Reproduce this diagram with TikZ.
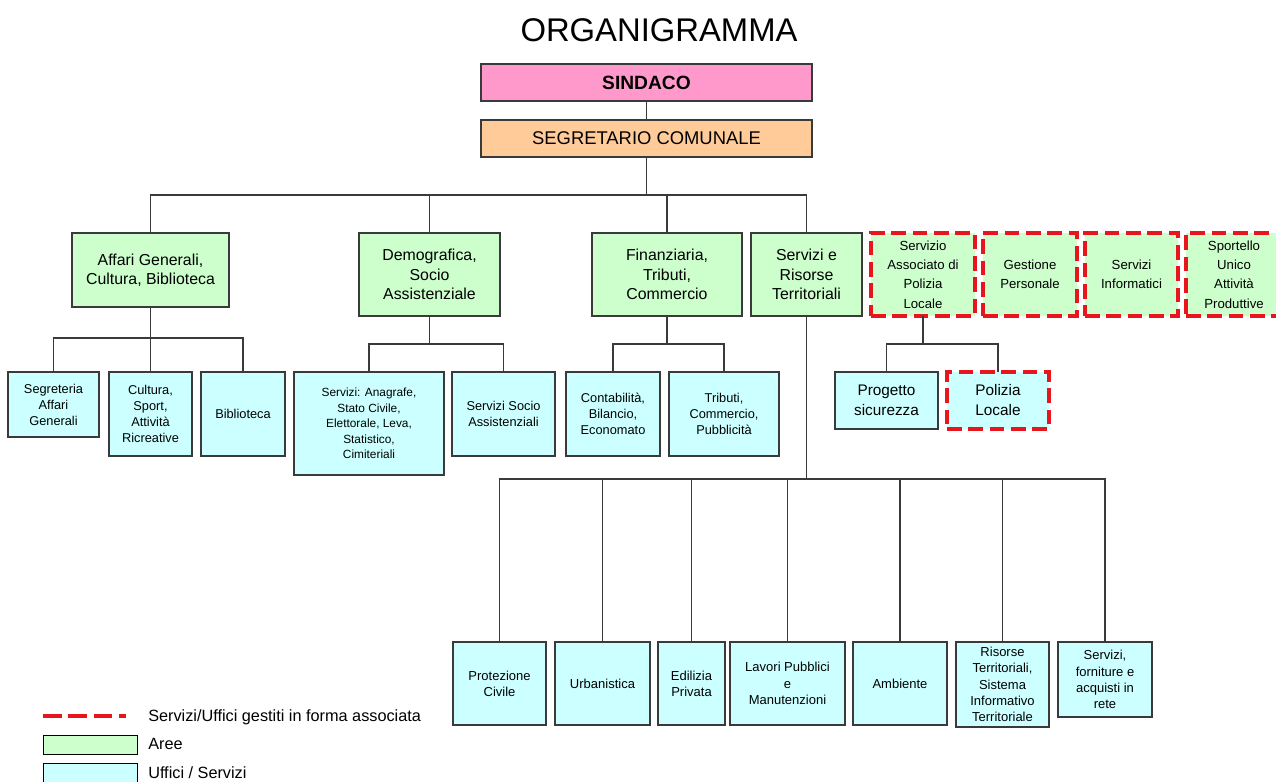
\documentclass[tikz,border=0pt]{standalone}
\usepackage{fontspec}
\setmainfont{Liberation Sans}
\definecolor{areagreen}{HTML}{CCFFCC}
\definecolor{ufcyan}{HTML}{CCFFFF}
\definecolor{sinpink}{HTML}{FF99CC}
\definecolor{segpeach}{HTML}{FFCC99}
\definecolor{bord}{HTML}{3A3A3A}
\definecolor{assred}{HTML}{E8161C}
\tikzset{
  box/.style={draw=bord, line width=0.9pt, inner sep=1pt, outer sep=0pt, align=center, text=black},
  area/.style={box, fill=areagreen, font=\fontsize{11.9}{14.4}\selectfont},
  areaass/.style={box, fill=areagreen, draw=assred, line width=2.4pt, dash pattern=on 11pt off 5pt, font=\fontsize{9.9}{14.4}\selectfont},
  uff/.style={box, fill=ufcyan, font=\fontsize{9.6}{12}\selectfont},
  uffsmall/.style={box, fill=ufcyan, font=\fontsize{8.9}{11.6}\selectfont},
  uffbig/.style={box, fill=ufcyan, font=\fontsize{11.5}{15}\selectfont},
  uffass/.style={uffbig, draw=assred, line width=2.4pt, dash pattern=on 11pt off 5pt},
  uffbot/.style={box, fill=ufcyan, font=\fontsize{9.75}{12.2}\selectfont},
  topbox/.style={box, font=\fontsize{13.8}{16}\selectfont},
  conn/.style={draw=bord, line width=0.9pt},
  legtext/.style={anchor=base west, inner sep=0pt, font=\fontsize{12.2}{14}\selectfont},
  legbox/.style={draw=black, line width=0.75pt, inner sep=0pt, outer sep=0pt},
  assline/.style={draw=assred, line width=2.4pt, dash pattern=on 14pt off 5pt},
}
\newcommand{\bx}[7]{\node[#6, minimum width={(#4-#2)*0.75pt}, minimum height={(#5-#3)*0.75pt}] (#1) at ({(#2+#4)/2},{(#3+#5)/2}) {#7};}
\begin{document}
\begin{tikzpicture}[x=0.75pt, y=-0.75pt]
\useasboundingbox (0,0) rectangle (1276,781);

\node[inner sep=0pt, font=\fontsize{24.6}{28}\selectfont] (title) at (659,30) {ORGANIGRAMMA};

\bx{sind}{481}{64}{812}{101}{topbox, fill=sinpink}{\fontsize{14.4}{16}\selectfont\bfseries SINDACO}
\bx{segr}{481}{120}{812}{157}{topbox, fill=segpeach}{SEGRETARIO COMUNALE}

% level 2
\bx{aff}{72}{233}{229}{307}{area}{Affari Generali,\\Cultura, Biblioteca}
\bx{dem}{359}{233}{500}{316}{area}{Demografica,\\Socio\\Assistenziale}
\bx{fin}{592}{233}{742}{316}{area}{Finanziaria,\\Tributi,\\Commercio}
\bx{ser}{751}{233}{862}{316}{area}{Servizi e\\Risorse\\Territoriali}
\bx{sapl}{871}{233}{975}{316}{areaass}{Servizio\\Associato di\\Polizia\\Locale}
\bx{gp}{983}{233}{1077}{316}{areaass}{Gestione\\Personale}
\bx{si}{1085}{233}{1178}{316}{areaass}{Servizi\\Informatici}
\bx{suap}{1186}{233}{1282}{316}{areaass}{Sportello\\Unico\\Attività\\Produttive}

% level 3
\bx{seg}{8}{372}{99}{437}{uff}{Segreteria\\Affari\\Generali}
\bx{cul}{109}{372}{192}{456}{uff}{Cultura,\\Sport,\\Attività\\Ricreative}
\bx{bib}{201}{372}{285}{456}{uff}{Biblioteca}
\bx{ana}{294}{372}{444}{475}{uffsmall}{Servizi: Anagrafe,\\Stato Civile,\\Elettorale, Leva,\\Statistico,\\Cimiteriali}
\bx{soc}{452}{372}{555}{456}{uff}{Servizi Socio\\Assistenziali}
\bx{con}{566}{372}{660}{456}{uff}{Contabilità,\\Bilancio,\\Economato}
\bx{trib}{669}{372}{779}{456}{uff}{Tributi,\\Commercio,\\Pubblicità}
\bx{prog}{835}{372}{938}{429}{uffbig}{Progetto\\sicurezza}
\bx{pol}{947}{372}{1049}{429}{uffass}{Polizia\\Locale}

% bottom level
\bx{pc}{453}{642}{546}{725}{uffbot}{Protezione\\Civile}
\bx{urb}{555}{642}{650}{725}{uffbot}{Urbanistica}
\bx{edi}{658}{642}{725}{725}{uffbot}{Edilizia\\Privata}
\bx{lav}{730}{642}{845}{725}{uffbot}{Lavori Pubblici\\e\\Manutenzioni}
\bx{amb}{853}{642}{947}{725}{uffbot}{Ambiente}
\bx{ris}{956}{642}{1049}{727}{uffbot}{Risorse\\Territoriali,\\Sistema\\Informativo\\Territoriale}
\bx{sfr}{1058}{642}{1152}{717}{uffbot}{Servizi,\\forniture e\\acquisti in\\rete}

% bus coordinates
\coordinate (bus1) at (0,195);
\coordinate (bus2) at (0,338);
\coordinate (bus3) at (0,344);
\coordinate (bus4) at (0,479);

% connectors
\draw[conn] (sind.south) -- (segr.north);
\draw[conn] (segr.south) -- (segr.south |- bus1);
\draw[conn] (aff.north) -- (aff.north |- bus1) -- (ser.north |- bus1) -- (ser.north);
\draw[conn] (dem.north) -- (dem.north |- bus1);
\draw[conn] (fin.north) -- (fin.north |- bus1);

\draw[conn] (aff.south) -- (aff.south |- bus2);
\draw[conn] (seg.north) -- (seg.north |- bus2) -- (bib.north |- bus2) -- (bib.north);
\draw[conn] (cul.north) -- (cul.north |- bus2);

\draw[conn] (dem.south) -- (dem.south |- bus3);
\draw[conn] (ana.north) -- (ana.north |- bus3) -- (soc.north |- bus3) -- (soc.north);

\draw[conn] (fin.south) -- (fin.south |- bus3);
\draw[conn] (con.north) -- (con.north |- bus3) -- (trib.north |- bus3) -- (trib.north);

\draw[conn] (sapl.south) -- (sapl.south |- bus3);
\draw[conn] (prog.north) -- (prog.north |- bus3) -- (pol.north |- bus3) -- (pol.north);

\draw[conn] (ser.south) -- (ser.south |- bus4);
\draw[conn] (pc.north) -- (pc.north |- bus4) -- (sfr.north |- bus4) -- (sfr.north);
\draw[conn] (urb.north) -- (urb.north |- bus4);
\draw[conn] (edi.north) -- (edi.north |- bus4);
\draw[conn] (lav.north) -- (lav.north |- bus4);
\draw[conn] (amb.north) -- (amb.north |- bus4);
\draw[conn] (ris.north) -- (ris.north |- bus4);

% legend
\coordinate (la) at (43,716);
\coordinate (lb) at (126,716);
\draw[assline] (la) -- (lb);
\node[legtext] (l1) at (148,721) {Servizi/Uffici gestiti in forma associata};
\bx{lgA}{43}{735}{137}{754}{legbox, fill=areagreen}{}
\node[legtext] (l2) at (148,749) {Aree};
\bx{lgU}{43}{763}{137}{786}{legbox, fill=ufcyan}{}
\node[legtext] (l3) at (148,778) {Uffici / Servizi};
\end{tikzpicture}
\end{document}
